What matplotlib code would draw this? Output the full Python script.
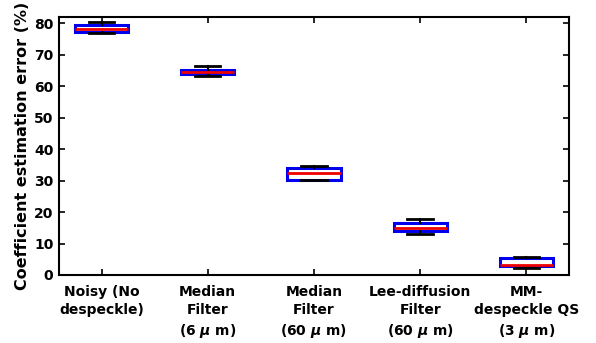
import matplotlib
matplotlib.use("Agg")
import matplotlib.pyplot as plt

categories = [
    "Noisy (No\ndespeckle)",
    "Median\nFilter\n(6 $\\mu$ m)",
    "Median\nFilter\n(60 $\\mu$ m)",
    "Lee-diffusion\nFilter\n(60 $\\mu$ m)",
    "MM-\ndespeckle QS\n(3 $\\mu$ m)",
]
whisker_low = [77.0, 63.4, 30.1, 13.1, 2.3]
q1 = [77.2, 63.8, 30.3, 13.9, 2.95]
medians = [78.3, 64.6, 32.4, 14.9, 3.2]
q3 = [79.4, 65.3, 33.9, 16.4, 5.3]
whisker_high = [80.4, 66.3, 34.8, 17.7, 5.8]

stats = []
for i in range(len(categories)):
    stats.append({
        "whislo": whisker_low[i],
        "q1": q1[i],
        "med": medians[i],
        "q3": q3[i],
        "whishi": whisker_high[i],
        "fliers": [],
    })

plt.rcParams["font.family"] = "DejaVu Sans"
plt.rcParams["font.weight"] = "bold"
plt.rcParams["mathtext.default"] = "it"

fig = plt.figure(figsize=(5.96, 3.43), dpi=100)
ax = fig.add_axes([59 / 596, 1 - 275 / 343, 510 / 596, 258 / 343])

ax.bxp(
    stats,
    positions=range(1, len(categories) + 1),
    widths=0.5,
    showfliers=False,
    patch_artist=True,
    boxprops=dict(facecolor="white", edgecolor="#0000ee", linewidth=2.2),
    medianprops=dict(color="#ee0000", linewidth=2.0),
    whiskerprops=dict(color="black", linewidth=1.5, linestyle="-"),
    capprops=dict(color="black", linewidth=2.0),
    capwidths=0.24,
)

ax.set_xlim(0.6, 5.4)
ax.set_ylim(0, 82)
ax.set_yticks(range(0, 81, 10))
ax.set_xticks(range(1, len(categories) + 1))
ax.set_xticklabels(categories, fontsize=10, fontweight="bold", linespacing=1.4)
ax.tick_params(axis="y", labelsize=10, pad=4)
ax.tick_params(axis="x", pad=7)
ax.tick_params(direction="in", top=True, right=True, length=4, width=1.2)
for lbl in ax.get_yticklabels():
    lbl.set_fontweight("bold")
for spine in ax.spines.values():
    spine.set_linewidth(1.5)

ax.set_ylabel("Coefficient estimation error (%)", fontsize=11.5,
              fontweight="bold", labelpad=3)

fig.savefig("out.png", dpi=100)
